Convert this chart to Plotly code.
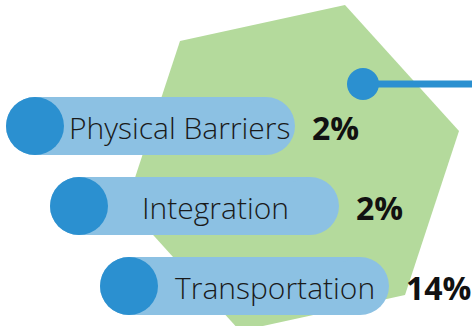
import plotly.graph_objects as go

# ---- data ----
categories = ["Physical Barriers", "Integration", "Transportation"]
values = [2, 2, 14]
value_labels = [f"{v}%" for v in values]

# ---- layout constants (pixel space) ----
W, H = 472, 326
bar_left = [6, 50, 100]
bar_yc = [126, 206, 286]
bar_len = 289
R = 29
label_cx = [179, 215, 275]

GREEN = "#b4da9c"
LIGHT = "#8cc1e3"
DARK = "#2b90d0"

hexagon = [(180, 41), (345, 5), (459, 131), (405, 295), (240, 331), (126, 205)]

fig = go.Figure()
shapes = []
path = "M " + " L ".join(f"{x},{y}" for x, y in hexagon) + " Z"
shapes.append(dict(type="path", path=path, fillcolor=GREEN, line=dict(width=0), layer="below"))

# connector line with dot
shapes.append(dict(type="line", x0=363, y0=84, x1=W + 5, y1=84, line=dict(color=DARK, width=7)))
shapes.append(dict(type="circle", x0=363 - 16, y0=84 - 16, x1=363 + 16, y1=84 + 16,
                   fillcolor=DARK, line=dict(width=0)))

annotations = []
for cat, lab, x0, yc, lx in zip(categories, value_labels, bar_left, bar_yc, label_cx):
    x1 = x0 + bar_len
    shapes.append(dict(type="rect", x0=x0 + R, x1=x1 - R, y0=yc - R, y1=yc + R,
                       fillcolor=LIGHT, line=dict(width=0)))
    shapes.append(dict(type="circle", x0=x1 - 2 * R, x1=x1, y0=yc - R, y1=yc + R,
                       fillcolor=LIGHT, line=dict(width=0)))
    shapes.append(dict(type="circle", x0=x0, x1=x0 + 2 * R, y0=yc - R, y1=yc + R,
                       fillcolor=LIGHT, line=dict(width=0)))
    shapes.append(dict(type="circle", x0=x0, x1=x0 + 2 * R, y0=yc - R, y1=yc + R,
                       fillcolor=DARK, line=dict(width=0)))
    annotations.append(dict(x=lx, y=yc + 1, text=cat, showarrow=False, xanchor="center",
                            yanchor="middle",
                            font=dict(family="Open Sans", size=30, color="#1a1a1a", weight=300)))
    annotations.append(dict(x=x1 + 15, y=yc + 1, text=f"<b>{lab}</b>", showarrow=False,
                            xanchor="left", yanchor="middle",
                            font=dict(family="Open Sans", size=32, color="#111111")))

fig.update_layout(
    width=W, height=H, margin=dict(l=0, r=0, t=0, b=0),
    paper_bgcolor="white", plot_bgcolor="white",
    xaxis=dict(range=[0, W], visible=False, fixedrange=True),
    yaxis=dict(range=[H, 0], visible=False, fixedrange=True),
    shapes=shapes, annotations=annotations, showlegend=False,
)
fig.write_html("out.html", config={"displayModeBar": False})
